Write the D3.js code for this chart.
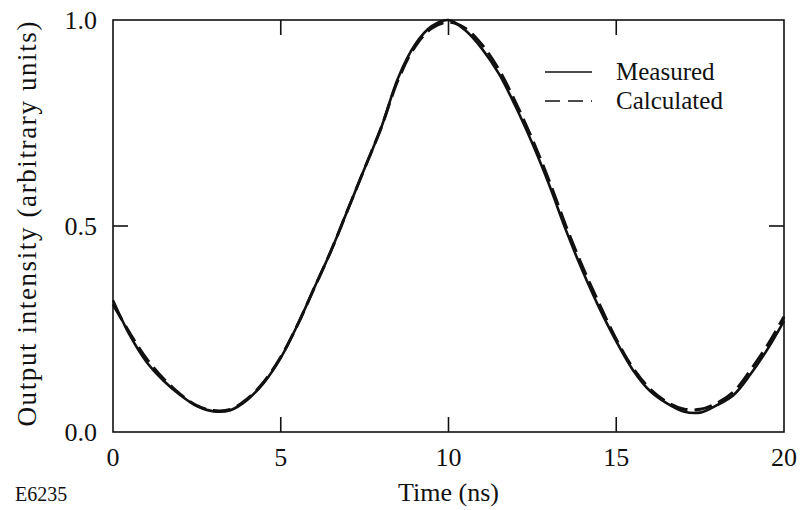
<!DOCTYPE html>
<html>
<head>
<meta charset="utf-8">
<script src="https://cdn.jsdelivr.net/npm/d3@7"></script>
<style>
  html, body { margin: 0; padding: 0; background: #fff; }
  svg { display: block; }
  text { font-family: "Liberation Serif", "DejaVu Serif", serif; fill: #111; }
</style>
</head>
<body>
<svg id="chart" width="806" height="510"></svg>
<script>
// Pulse shape: time samples (ns) and output intensity (arbitrary units)
const time = [0, 0.5, 1, 1.5, 2, 2.5, 3, 3.5, 4, 4.5, 5, 5.5, 6, 6.5, 7, 7.5, 8, 8.5, 9, 9.5, 10,
              10.5, 11, 11.5, 12, 12.5, 13, 13.5, 14, 14.5, 15, 15.5, 16, 16.5, 17, 17.5, 18, 18.5, 19, 19.5, 20];
const measured = [0.32, 0.235, 0.17, 0.125, 0.09, 0.063, 0.05, 0.053, 0.078, 0.12, 0.18, 0.26, 0.35, 0.44, 0.54, 0.64, 0.74, 0.86, 0.94, 0.985, 1.0,
                  0.975, 0.93, 0.87, 0.79, 0.70, 0.60, 0.49, 0.39, 0.30, 0.22, 0.15, 0.10, 0.07, 0.05, 0.047, 0.065, 0.09, 0.14, 0.20, 0.27];
const calculated = [0.31, 0.24, 0.178, 0.13, 0.092, 0.064, 0.052, 0.055, 0.08, 0.122, 0.182, 0.26, 0.35, 0.44, 0.54, 0.64, 0.74, 0.855, 0.935, 0.98, 0.995,
                    0.98, 0.94, 0.88, 0.80, 0.71, 0.61, 0.50, 0.40, 0.31, 0.225, 0.155, 0.105, 0.073, 0.056, 0.055, 0.07, 0.098, 0.15, 0.21, 0.28];

const xTicks = [0, 5, 10, 15, 20];
const yTicks = [0, 0.5, 1.0];
const legendLabels = ["Measured", "Calculated"];

const svg = d3.select("#chart");
const plotLeft = 113, plotRight = 784, plotTop = 20, plotBottom = 432;

const x = d3.scaleLinear().domain([0, 20]).range([plotLeft, plotRight]);
const y = d3.scaleLinear().domain([0, 1]).range([plotBottom, plotTop]);

// Frame
svg.append("rect")
  .attr("x", plotLeft).attr("y", plotTop)
  .attr("width", plotRight - plotLeft).attr("height", plotBottom - plotTop)
  .attr("fill", "none").attr("stroke", "#111").attr("stroke-width", 1.6);

// Inward ticks on all four sides
const tickLen = 15;
const ticksG = svg.append("g").attr("stroke", "#111").attr("stroke-width", 1.6);
xTicks.slice(1, -1).forEach(t => {
  ticksG.append("line").attr("x1", x(t)).attr("x2", x(t)).attr("y1", plotBottom).attr("y2", plotBottom - tickLen);
  ticksG.append("line").attr("x1", x(t)).attr("x2", x(t)).attr("y1", plotTop).attr("y2", plotTop + tickLen);
});
yTicks.slice(1, -1).forEach(v => {
  ticksG.append("line").attr("x1", plotLeft).attr("x2", plotLeft + tickLen).attr("y1", y(v)).attr("y2", y(v));
  ticksG.append("line").attr("x1", plotRight).attr("x2", plotRight - tickLen).attr("y1", y(v)).attr("y2", y(v));
});

// Tick labels
svg.append("g").selectAll("text").data(xTicks).join("text")
  .attr("x", d => x(d)).attr("y", 466)
  .attr("text-anchor", "middle").attr("font-size", 26)
  .text(d => d);
svg.append("g").selectAll("text").data(yTicks).join("text")
  .attr("x", 97).attr("y", d => y(d) + 9)
  .attr("text-anchor", "end").attr("font-size", 26)
  .text(d => d3.format(".1f")(d));

// Axis titles
svg.append("text")
  .attr("x", x(10)).attr("y", 501)
  .attr("text-anchor", "middle").attr("font-size", 26)
  .text("Time (ns)");
svg.append("text")
  .attr("transform", `translate(36, ${(plotTop + plotBottom) / 2 - 2}) rotate(-90)`)
  .attr("text-anchor", "middle").attr("font-size", 27)
  .attr("textLength", 405).attr("lengthAdjust", "spacing")
  .text("Output intensity (arbitrary units)");
svg.append("text")
  .attr("x", 15).attr("y", 501)
  .attr("font-size", 20)
  .text("E6235");

// Curves
const line = d3.line()
  .x((d, i) => x(time[i]))
  .y(d => y(d))
  .curve(d3.curveCatmullRom.alpha(0.5));

svg.append("path")
  .datum(calculated)
  .attr("d", line)
  .attr("fill", "none").attr("stroke", "#111").attr("stroke-width", 3)
  .attr("stroke-dasharray", "18,7");

svg.append("path")
  .datum(measured)
  .attr("d", line)
  .attr("fill", "none").attr("stroke", "#111").attr("stroke-width", 2.6);

// Legend
const legend = svg.append("g");
const legendY = [72, 101];
legend.append("line")
  .attr("x1", 545).attr("x2", 592).attr("y1", legendY[0]).attr("y2", legendY[0])
  .attr("stroke", "#111").attr("stroke-width", 1.6);
legend.append("line")
  .attr("x1", 545).attr("x2", 592).attr("y1", legendY[1]).attr("y2", legendY[1])
  .attr("stroke", "#111").attr("stroke-width", 1.6)
  .attr("stroke-dasharray", "15,8");
legend.selectAll("text").data(legendLabels).join("text")
  .attr("x", 616).attr("y", (d, i) => legendY[i] + 8)
  .attr("font-size", 25)
  .text(d => d);
</script>
</body>
</html>
